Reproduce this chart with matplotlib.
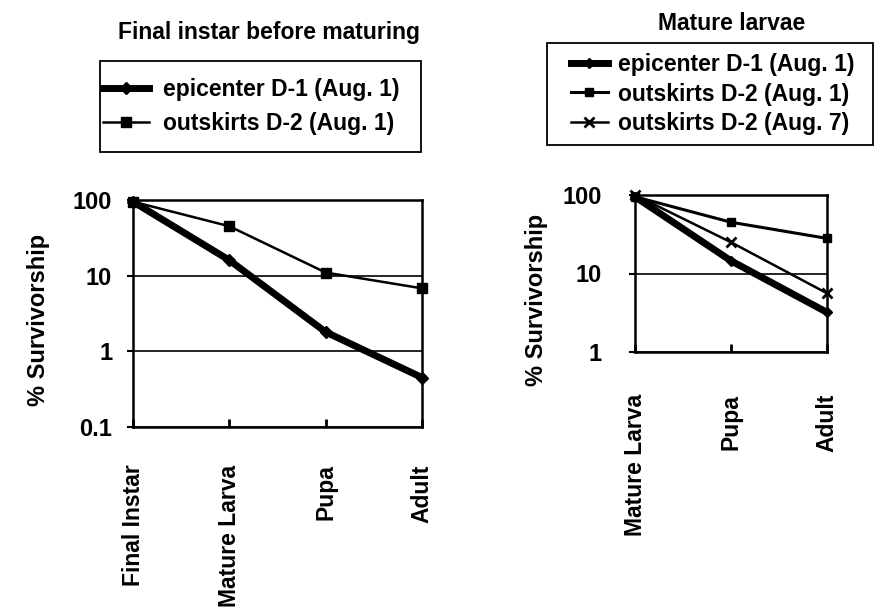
import matplotlib
matplotlib.use("Agg")
import matplotlib.pyplot as plt
from matplotlib.ticker import FixedLocator, NullLocator, FixedFormatter
from matplotlib.patches import Rectangle

plt.rcParams['font.family'] = ['Liberation Sans', 'DejaVu Sans']
plt.rcParams['font.weight'] = 'bold'

# Left panel data
left_title = "Final instar before maturing"
left_stages = ["Final Instar", "Mature Larva", "Pupa", "Adult"]
left_epicenter_d1_aug1 = [95, 16, 1.8, 0.45]
left_outskirts_d2_aug1 = [95, 45, 11, 6.8]

# Right panel data
right_title = "Mature larvae"
right_stages = ["Mature Larva", "Pupa", "Adult"]
right_epicenter_d1_aug1 = [95, 14.5, 3.2]
right_outskirts_d2_aug1 = [95, 45, 28]
right_outskirts_d2_aug7 = [100, 25, 5.6]

left_yticks = [0.1, 1, 10, 100]
left_yticklabels = ["0.1", "1", "10", "100"]
right_yticks = [1, 10, 100]
right_yticklabels = ["1", "10", "100"]

FS = 16.5
W, H = 876, 616
fig = plt.figure(figsize=(W / 100, H / 100), dpi=100)


def fx(px):
    return px / W


def fy(py):
    return 1 - py / H


ax1 = fig.add_axes([fx(133), fy(427), fx(422) - fx(133), fy(200) - fy(427)])
ax2 = fig.add_axes([fx(635), fy(352), fx(827) - fx(635), fy(195) - fy(352)])


def style(ax, stages, yticks, ylabels, ylim, xpad, ypad):
    ax.set_yscale('log')
    ax.set_ylim(*ylim)
    ax.set_xlim(0, len(stages) - 1)
    ax.yaxis.set_major_locator(FixedLocator(yticks))
    ax.yaxis.set_major_formatter(FixedFormatter(ylabels))
    ax.yaxis.set_minor_locator(NullLocator())
    ax.set_xticks(range(len(stages)))
    ax.set_xticklabels(stages, rotation=90, fontsize=FS, fontweight='bold', va='top')
    ax.tick_params(axis='x', direction='in', length=6, width=2, pad=xpad)
    ax.tick_params(axis='y', direction='out', length=4, width=1.5, labelsize=17, pad=ypad)
    for lbl in ax.get_yticklabels():
        lbl.set_fontweight('bold')
    for s in ax.spines.values():
        s.set_linewidth(1.8)
    ax.grid(axis='y', which='major', color='black', linewidth=1.2)
    ax.set_axisbelow(True)


# Left panel
x1 = range(len(left_stages))
ax1.plot(x1, left_epicenter_d1_aug1, color='black', linewidth=5, marker='D', markersize=6,
         label="epicenter D-1 (Aug. 1)", clip_on=False, zorder=4)
ax1.plot(x1, left_outskirts_d2_aug1, color='black', linewidth=1.8, marker='s', markersize=7.5,
         label="outskirts D-2 (Aug. 1)", clip_on=False, zorder=5)
style(ax1, left_stages, left_yticks, left_yticklabels, (0.1, 100), 27, 11)

# Right panel
x2 = range(len(right_stages))
ax2.plot(x2, right_epicenter_d1_aug1, color='black', linewidth=5, marker='D', markersize=5,
         label="epicenter D-1 (Aug. 1)", clip_on=False, zorder=4)
ax2.plot(x2, right_outskirts_d2_aug1, color='black', linewidth=2.2, marker='s', markersize=6,
         label="outskirts D-2 (Aug. 1)", clip_on=False, zorder=5)
ax2.plot(x2, right_outskirts_d2_aug7, color='black', linewidth=1.8, marker='x', markersize=7,
         markeredgewidth=2, label="outskirts D-2 (Aug. 7)", clip_on=False, zorder=6)
style(ax2, right_stages, right_yticks, right_yticklabels, (1, 100), 30, 20)

# Y labels
fig.text(fx(39), fy(320), "% Survivorship", rotation=90, ha='center', va='center',
         fontsize=17, fontweight='bold')
fig.text(fx(536), fy(300), "% Survivorship", rotation=90, ha='center', va='center',
         fontsize=17, fontweight='bold')

# Titles
fig.text(fx(269), fy(33), left_title, ha='center', va='center', fontsize=FS, fontweight='bold')
fig.text(fx(732), fy(24), right_title, ha='center', va='center', fontsize=FS, fontweight='bold')

# Legend frames
fig.patches.append(Rectangle((fx(100), fy(152)), fx(421) - fx(100), fy(61) - fy(152),
                             transform=fig.transFigure, fill=False, edgecolor='black',
                             linewidth=1.3))
fig.patches.append(Rectangle((fx(547), fy(145)), fx(873) - fx(547), fy(43) - fy(145),
                             transform=fig.transFigure, fill=False, edgecolor='black',
                             linewidth=1.3))

# Legends
fig.legend(handles=ax1.get_lines(), loc='center left',
           bbox_to_anchor=(fx(103), fy(106.5)), frameon=False,
           prop={'size': FS, 'weight': 'bold'}, handlelength=2.0, borderpad=0.0,
           labelspacing=0.45, handletextpad=0.6, borderaxespad=0)
fig.legend(handles=ax2.get_lines(), loc='center left',
           bbox_to_anchor=(fx(571), fy(94)), frameon=False,
           prop={'size': FS, 'weight': 'bold'}, handlelength=1.6, borderpad=0.0,
           labelspacing=0.3, handletextpad=0.45, borderaxespad=0)

fig.savefig("out.png", dpi=100, facecolor='white')
